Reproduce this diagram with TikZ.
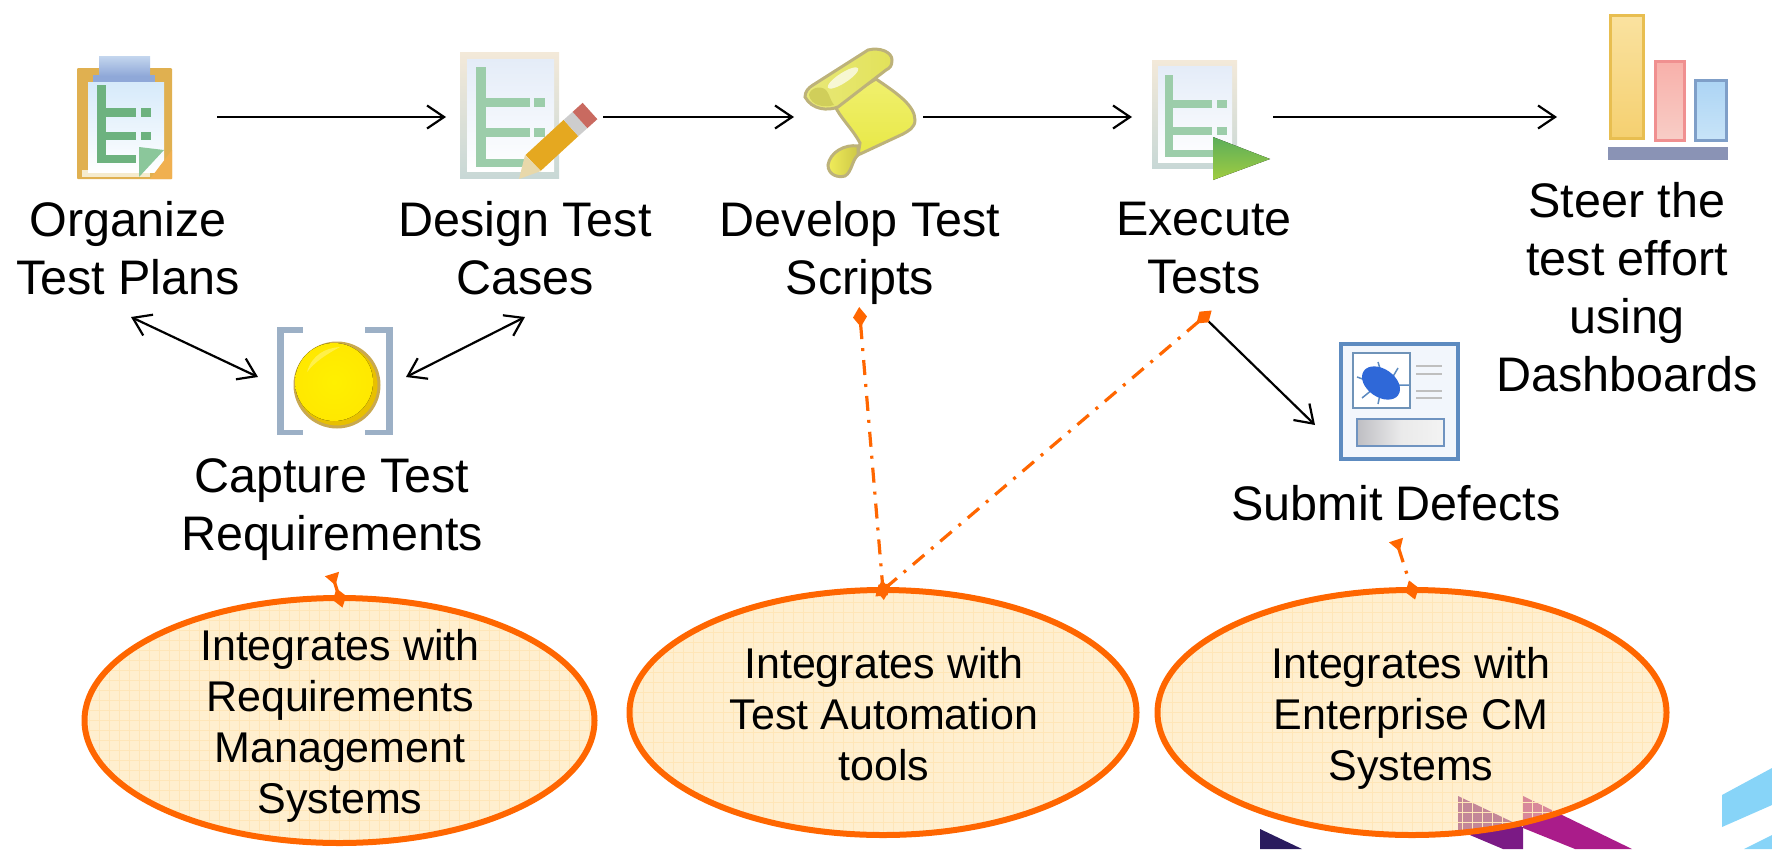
\documentclass[tikz,border=0pt]{standalone}
\usepackage{fontspec}
\setmainfont{Liberation Sans}
\usetikzlibrary{arrows.meta,shapes.geometric}
\definecolor{linkorange}{HTML}{FF6600}
\definecolor{treegreen}{HTML}{6DB27F}
\definecolor{palegreen}{HTML}{9CCDAA}
\definecolor{bracketblue}{HTML}{9CB0C6}
\definecolor{scrolledge}{HTML}{BDB27A}
\definecolor{bugblue}{HTML}{5D8BC0}
\definecolor{ellfill}{HTML}{FFE2A8}
\definecolor{ellgrid}{HTML}{FFE6B8}
\tikzset{
	iconbox/.style={inner sep=0,outer sep=0},
	steplabel/.style={inner sep=0,outer sep=0,align=center,minimum height=121pt,font=\fontsize{48.5}{58}\selectfont,execute at begin node=\strut,execute at end node=\strut},
	ellipselabel/.style={inner sep=0,outer sep=0,align=center,font=\fontsize{43}{51}\selectfont,execute at begin node=\strut,execute at end node=\strut},
	flowarrow/.style={black,line width=2.2pt,-{Straight Barb[length=17pt,width=23pt,line width=2.2pt]}},
	bothways/.style={black,line width=2.2pt,{Straight Barb[length=17pt,width=23pt,line width=2.2pt]}-{Straight Barb[length=17pt,width=23pt,line width=2.2pt]}},
	linkline/.style={linkorange,line width=3.2pt,dash pattern=on 15pt off 9pt on 3pt off 9pt,shorten <=-10pt,shorten >=-10pt,{Diamond[length=20pt,width=14pt,fill=linkorange]}-{Diamond[length=20pt,width=14pt,fill=linkorange]}},
	shortlink/.style={linkorange,line width=3.2pt,dash pattern=on 15pt off 9pt on 3pt off 9pt,shorten >=-10pt,{Triangle[reversed,length=12pt,width=14pt,fill=linkorange]}-{Diamond[length=20pt,width=14pt,fill=linkorange]}},
	intell/.style={ellipse,draw=linkorange,line width=6pt,fill=ellfill,fill opacity=.55,text opacity=1,inner sep=0,outer sep=0,minimum height=245pt,
		path picture={\draw[ellgrid,line width=1pt,step=10pt] (path picture bounding box.south west) grid (path picture bounding box.north east);}},
	tree/.style={fill=treegreen,draw=none},
	palebar/.style={fill=palegreen,draw=none}
}
\begin{document}
\begin{tikzpicture}[x=1pt,y=-1pt]
	\useasboundingbox (0,0) rectangle (1772,849);
	% corner decoration
	\fill[fill={rgb,255:red,135;green,212;blue,248}] (1722,795) -- (1772,768) -- (1772,805) -- (1722,827) -- cycle;
	\fill[fill={rgb,255:red,135;green,212;blue,248}] (1744,849) -- (1772,835) -- (1772,849) -- cycle;
	\fill[fill={rgb,255:red,42;green,27;blue,94}] (1260,829) -- (1302,849) -- (1260,849) -- cycle;
	\fill[fill={rgb,255:red,123;green,26;blue,133}] (1458,796) -- (1523,827) -- (1523,849) -- (1503,849) -- (1458,830) -- cycle;
	\fill[fill={rgb,255:red,170;green,28;blue,138}] (1523,796) -- (1632,849) -- (1575,849) -- (1523,828) -- cycle;
	% clipboard
	\fill[rounded corners=1pt,fill={rgb,255:red,224;green,176;blue,80}] (77,68) rectangle (172,179);
	\fill[fill={rgb,255:red,245;green,235;blue,205}] (82,170) rectangle (150,177);
	\fill[top color={rgb,255:red,214;green,234;blue,250},bottom color=white] (88,82) rectangle (164,172);
	\fill[fill={rgb,255:red,143;green,168;blue,216}] (93,75) rectangle (155,82);
	\fill[top color={rgb,255:red,196;green,214;blue,238},bottom color={rgb,255:red,143;green,168;blue,216}] (99,56) rectangle (150,76);
	\fill[tree] (97,85) rectangle (106,163);
	\fill[tree] (97,108) rectangle (136,117);
	\fill[tree] (141,108) rectangle (151,117);
	\fill[tree] (97,132) rectangle (136,140);
	\fill[tree] (141,132) rectangle (151,140);
	\fill[tree] (97,155) rectangle (136,163);
	\fill[fill={rgb,255:red,240;green,176;blue,80}] (172,150) -- (172,179) -- (150,179) -- cycle;
	\fill[fill={rgb,255:red,139;green,199;blue,155}] (139,147) -- (164,150) -- (139,177) -- cycle;
	% sheet with pencil
	\fill[top color={rgb,255:red,243;green,233;blue,217},bottom color={rgb,255:red,200;green,216;blue,214}] (460,52) rectangle (559,178);
	\fill[top color={rgb,255:red,228;green,236;blue,248},bottom color=white] (467,59) rectangle (554,171);
	\fill[palebar] (476,67) rectangle (486,167);
	\fill[palebar] (476,98) rectangle (530,107);
	\fill[palebar] (534,98) rectangle (545,107);
	\fill[palebar] (476,128) rectangle (530,137);
	\fill[palebar] (534,128) rectangle (545,137);
	\fill[palebar] (476,159) rectangle (525,167);
	\draw[line width=22pt,color={rgb,255:red,229;green,168;blue,32}] (533,163) -- (571,128);
	\draw[line width=22pt,color={rgb,255:red,205;green,205;blue,205}] (571,128) -- (580,120);
	\draw[line width=22pt,color={rgb,255:red,201;green,106;blue,96}] (580,120) -- (590,111);
	\fill[fill={rgb,255:red,232;green,216;blue,170}] (525,155) -- (541,171) -- (519,179) -- cycle;
	% scroll
	\fill[draw=scrolledge,line width=3pt,top color={rgb,255:red,240;green,240;blue,110},bottom color={rgb,255:red,232;green,232;blue,70}] (834,104) -- (876,79) .. controls (895,92) and (915,105) .. (915,120) .. controls (915,128) and (908,131) .. (903,134) -- (858,155) -- (860,143) .. controls (852,128) and (840,118) .. (834,104) -- cycle;
	\fill[draw=scrolledge,line width=3pt,left color={rgb,255:red,240;green,236;blue,90},right color={rgb,255:red,205;green,200;blue,70}] (858,146) .. controls (845,144) and (830,152) .. (828,165) .. controls (828,175) and (838,178) .. (845,176) .. controls (852,172) and (852,160) .. (858,155) -- cycle;
	\fill[draw=scrolledge,line width=3pt,left color={rgb,255:red,232;green,232;blue,120},right color={rgb,255:red,226;green,226;blue,90}] (805,97) .. controls (805,92) and (808,88) .. (813,85) -- (868,50) .. controls (880,47) and (892,52) .. (892,60) .. controls (892,66) and (890,68) .. (886,70) -- (838,107) .. controls (828,111) and (812,110) .. (805,97) -- cycle;
	\fill[fill={rgb,255:red,208;green,206;blue,90}] (809,95) .. controls (810,88) and (820,85) .. (826,90) .. controls (830,95) and (830,100) .. (834,105) .. controls (825,108) and (811,106) .. (809,95) -- cycle;
	\fill[fill=white,opacity=.7,rotate around={33:(843,78)}] (843,78) ellipse (18 and 5);
	% execute sheet
	\fill[top color={rgb,255:red,243;green,233;blue,217},bottom color={rgb,255:red,200;green,216;blue,214}] (1152,60) rectangle (1237,168);
	\fill[top color={rgb,255:red,228;green,236;blue,248},bottom color=white] (1158,66) rectangle (1232,162);
	\fill[palebar] (1165,75) rectangle (1173,157);
	\fill[palebar] (1165,100) rectangle (1212,108);
	\fill[palebar] (1217,100) rectangle (1227,108);
	\fill[palebar] (1165,127) rectangle (1212,135);
	\fill[palebar] (1217,127) rectangle (1227,135);
	\fill[palebar] (1165,150) rectangle (1215,157);
	\fill[top color={rgb,255:red,92;green,174;blue,90},bottom color={rgb,255:red,160;green,204;blue,64}] (1213,137) -- (1270,159) -- (1213,180) -- cycle;
	% dashboard bars
	\fill[draw={rgb,255:red,232;green,190;blue,80},line width=3pt,top color={rgb,255:red,250;green,226;blue,160},bottom color={rgb,255:red,245;green,208;blue,112}] (1610,15) rectangle (1643,138);
	\fill[draw={rgb,255:red,240;green,144;blue,144},line width=3pt,top color={rgb,255:red,248;green,176;blue,170},bottom color={rgb,255:red,248;green,205;blue,198}] (1655,61) rectangle (1684,140);
	\fill[draw={rgb,255:red,127;green,159;blue,200},line width=3pt,top color={rgb,255:red,172;green,212;blue,244},bottom color={rgb,255:red,200;green,228;blue,248}] (1695,80) rectangle (1726,140);
	\fill[fill={rgb,255:red,138;green,147;blue,181}] (1608,147) rectangle (1728,160);
	% bulb with brackets
	\fill[bracketblue] (277,327) rectangle (284,435);
	\fill[bracketblue] (277,327) rectangle (303,333);
	\fill[bracketblue] (277,430) rectangle (303,435);
	\fill[bracketblue] (386,327) rectangle (393,435);
	\fill[bracketblue] (365,327) rectangle (393,333);
	\fill[bracketblue] (365,430) rectangle (393,435);
	\fill[draw={rgb,255:red,201;green,169;blue,79},line width=3pt,fill={rgb,255:red,232;green,192;blue,0}] (337,385) circle (42);
	\fill[inner color={rgb,255:red,255;green,240;blue,0},outer color={rgb,255:red,255;green,232;blue,0}] (334,382) circle (39);
	\fill[fill={rgb,255:red,255;green,244;blue,122},opacity=.6] (307,372) .. controls (312,355) and (325,348) .. (340,347) .. controls (325,355) and (315,362) .. (307,372) -- cycle;
	% bug sheet
	\fill[draw=bugblue,line width=3.5pt,fill={rgb,255:red,242;green,246;blue,252}] (1341,344) rectangle (1458,459);
	\fill[draw={rgb,255:red,111;green,147;blue,184},line width=1.5pt,fill=white] (1353,353) rectangle (1410,408);
	\draw[bugblue,line width=1.5pt] (1357,377) -- (1380,385) (1362,398) -- (1378,385) (1378,404) -- (1382,385) (1378,362) -- (1385,385) (1398,368) -- (1388,385) (1409,385) -- (1390,385);
	\fill[fill={rgb,255:red,47;green,104;blue,216},rotate around={-35:(1381,383)}] (1381,383) ellipse (21 and 14);
	\fill[gray!50] (1416,365) rectangle (1442,367);
	\fill[gray!50] (1416,373) rectangle (1442,375);
	\fill[gray!50] (1416,390) rectangle (1442,392);
	\fill[gray!50] (1416,397) rectangle (1442,399);
	\fill[draw={rgb,255:red,111;green,147;blue,192},line width=2.5pt,left color={rgb,255:red,190;green,190;blue,195},right color={rgb,255:red,243;green,243;blue,243},middle color={rgb,255:red,234;green,234;blue,234}] (1357,419) rectangle (1444,446);
	% icon places
	\node[iconbox,minimum width=183pt,minimum height=126pt] (planicon) at (125.5,117) {};
	\node[iconbox,minimum width=157pt,minimum height=126pt] (caseicon) at (524.5,117) {};
	\node[iconbox,minimum width=129pt,minimum height=126pt] (scripticon) at (858.5,117) {};
	\node[iconbox,minimum width=141pt,minimum height=126pt] (runicon) at (1202.5,117) {};
	\node[iconbox,minimum width=178pt,minimum height=86pt] (dashicon) at (1646,117) {};
	\node[iconbox,minimum width=148pt,minimum height=114pt] (reqicon) at (332,377) {};
	\node[iconbox,minimum width=170pt,minimum height=66pt] (bugicon) at (1400,425) {};
	% step labels
	\node[steplabel] (plantxt) at (128,256.5) {Organize\\Test Plans};
	\node[steplabel] (casetxt) at (525,256.5) {Design Test\\Cases};
	\node[steplabel] (scripttxt) at (860,256.5) {Develop Test\\Scripts};
	\node[steplabel] (runtxt) at (1204,256.5) {Execute\\Tests};
	\node[steplabel] (dashtxt) at (1627,296) {Steer the\\test effort\\using\\Dashboards};
	\node[steplabel] (reqtxt) at (332,513.5) {Capture Test\\Requirements};
	\node[steplabel,minimum height=63pt] (bugtxt) at (1396,508.5) {Submit Defects};
	% integration ellipses
	\node[intell,minimum width=510pt] (reqell) at (339.5,720.5) {};
	\node[intell,minimum width=507pt] (autoell) at (883,712.5) {};
	\node[intell,minimum width=509pt] (cmell) at (1412,712.5) {};
	\node[ellipselabel] (reqellt) at (340,729.5) {Integrates with\\Requirements\\Management\\Systems};
	\node[ellipselabel] (autoellt) at (884,721.5) {Integrates with\\Test Automation\\tools};
	\node[ellipselabel] (cmellt) at (1411,721.5) {Integrates with\\Enterprise CM\\Systems};
	% main flow
	\draw[flowarrow] (planicon) -- (caseicon);
	\draw[flowarrow] (caseicon) -- (scripticon);
	\draw[flowarrow] (scripticon) -- (runicon);
	\draw[flowarrow] (runicon) -- (dashicon);
	\draw[bothways] ([xshift=3pt]plantxt.south) -- (reqicon.west);
	\draw[bothways] (casetxt.south) -- (reqicon.east);
	\draw[flowarrow] (runtxt.south) -- (bugicon.west);
	% links to the ellipses
	\draw[linkline] (scripttxt.south) -- (autoell.north);
	\draw[linkline] (runtxt.south) -- (autoell.north);
	\draw[shortlink] (reqtxt.south) -- (reqell.north);
	\draw[shortlink] (bugtxt.south) -- (cmell.north);
\end{tikzpicture}
\end{document}
